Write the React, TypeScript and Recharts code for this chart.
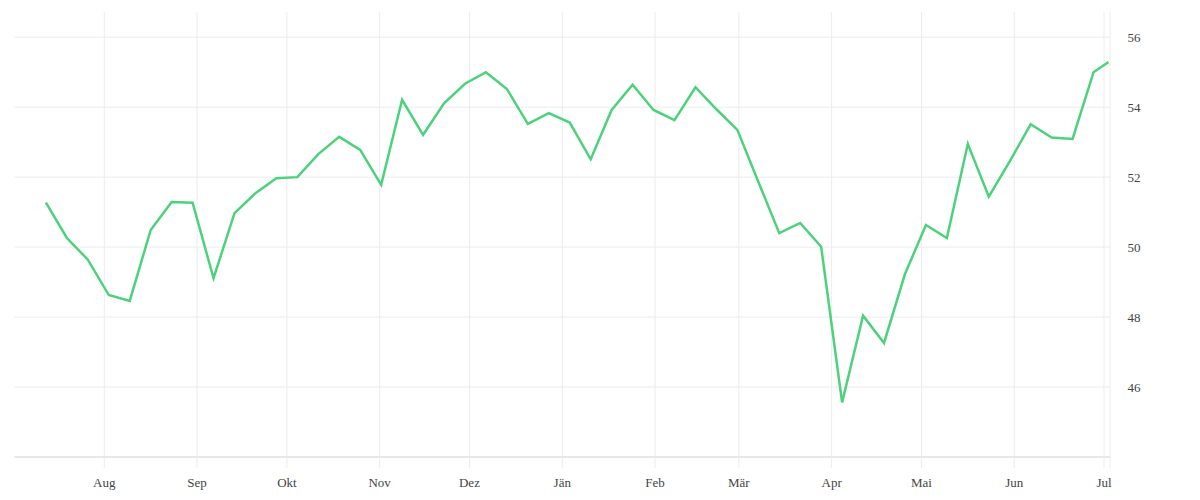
import React from 'react';
import { LineChart, Line, XAxis, YAxis, CartesianGrid } from 'recharts';

const dates: string[] = [
  '2018-07-12', '2018-07-19', '2018-07-26', '2018-08-02', '2018-08-09', '2018-08-16', '2018-08-23', '2018-08-30',
  '2018-09-06', '2018-09-13', '2018-09-20', '2018-09-27', '2018-10-04', '2018-10-11', '2018-10-18', '2018-10-25',
  '2018-11-01', '2018-11-08', '2018-11-15', '2018-11-22', '2018-11-29', '2018-12-06', '2018-12-13', '2018-12-20',
  '2018-12-27', '2019-01-03', '2019-01-10', '2019-01-17', '2019-01-24', '2019-01-31', '2019-02-07', '2019-02-14',
  '2019-02-21', '2019-02-28', '2019-03-07', '2019-03-14', '2019-03-21', '2019-03-28', '2019-04-04', '2019-04-11',
  '2019-04-18', '2019-04-25', '2019-05-02', '2019-05-09', '2019-05-16', '2019-05-23', '2019-05-30', '2019-06-06',
  '2019-06-13', '2019-06-20', '2019-06-27', '2019-07-02',
];

const values: number[] = [
  51.27, 50.26, 49.64, 48.63, 48.46, 50.49, 51.29, 51.27,
  49.11, 50.97, 51.54, 51.97, 52.0, 52.66, 53.15, 52.78,
  51.78, 54.21, 53.21, 54.11, 54.67, 55.0, 54.52, 53.52,
  53.83, 53.56, 52.51, 53.92, 54.64, 53.92, 53.63, 54.57,
  53.94, 53.35, 51.87, 50.4, 50.69, 50.01, 45.56, 48.04,
  47.26, 49.23, 50.63, 50.26, 52.95, 51.44, 52.45, 53.51,
  53.13, 53.09, 55.0, 55.29,
];

const monthTickDates: string[] = [
  '2018-08-01', '2018-09-01', '2018-10-01', '2018-11-01', '2018-12-01', '2019-01-01',
  '2019-02-01', '2019-03-01', '2019-04-01', '2019-05-01', '2019-06-01', '2019-07-01',
];
const monthLabels: string[] = ['Aug', 'Sep', 'Okt', 'Nov', 'Dez', 'Jän', 'Feb', 'Mär', 'Apr', 'Mai', 'Jun', 'Jul'];

const yTicks: number[] = [46, 48, 50, 52, 54, 56];
const yDomain: [number, number] = [44, 56.72];
const xDomainDates: [string, string] = ['2018-07-02', '2019-07-03'];

const ts = (d: string, time: string) => Date.parse(d + 'T' + time + 'Z');

const data = dates.map((d, i) => ({ t: ts(d, '12:00:00'), v: values[i] }));
const xDomain: [number, number] = [ts(xDomainDates[0], '00:00:00'), ts(xDomainDates[1], '00:00:00')];
const monthTicks = monthTickDates.map((d) => ts(d, '00:00:00'));
const xTicks = [...monthTicks, xDomain[1]];

const fmtX = (t: number) => {
  const i = monthTicks.indexOf(t);
  return i >= 0 ? monthLabels[i] : '';
};

const tickStyle = { fontFamily: '"Liberation Serif", serif', fontSize: 13, fill: '#444' };

export default function App() {
  return (
    <div style={{ position: 'absolute', left: 0, top: 0, width: 1200, height: 500, background: '#fff' }}>
      <LineChart width={1200} height={500} data={data} margin={{ top: 12, right: 30, bottom: 13, left: 14.5 }}>
        <CartesianGrid stroke="#ececec" strokeWidth={1} syncWithTicks />
        <XAxis
          dataKey="t"
          type="number"
          domain={xDomain}
          ticks={xTicks}
          tickFormatter={fmtX}
          allowDataOverflow
          height={30}
          axisLine={{ stroke: '#e8e8e8', strokeWidth: 2 }}
          tickLine={{ stroke: '#ececec' }}
          tickSize={11}
          tickMargin={10}
          tick={tickStyle}
          interval={0}
        />
        <YAxis
          orientation="right"
          type="number"
          domain={yDomain}
          ticks={yTicks}
          allowDataOverflow
          width={60}
          axisLine={false}
          tickLine={false}
          tickMargin={11.5}
          tick={tickStyle}
        />
        <Line
          type="linear"
          dataKey="v"
          stroke="#4cd27c"
          strokeWidth={2.5}
          dot={false}
          activeDot={false}
          isAnimationActive={false}
        />
      </LineChart>
    </div>
  );
}
